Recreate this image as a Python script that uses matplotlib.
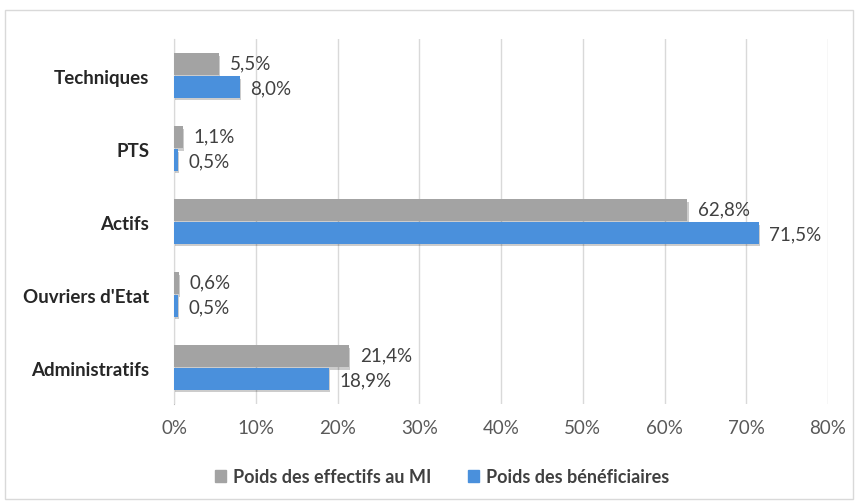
import numpy as np
import matplotlib
matplotlib.use("Agg")
import matplotlib.pyplot as plt
import matplotlib.patheffects as pe
from matplotlib.patches import Rectangle, Patch

plt.rcParams['font.family'] = ['Lato', 'DejaVu Sans']

# données
categories = ["Administratifs", "Ouvriers d'Etat", "Actifs", "PTS", "Techniques"]
effectifs_mi = [21.4, 0.6, 62.8, 1.1, 5.5]
beneficiaires = [18.9, 0.5, 71.5, 0.5, 8.0]
series_labels = ["Poids des effectifs au MI", "Poids des bénéficiaires"]
x_ticks = [0, 10, 20, 30, 40, 50, 60, 70, 80]

grey = "#A3A3A3"
blue = "#4A90DC"
txt = "#404040"

fig = plt.figure(figsize=(8.58, 5.02), dpi=100)
ax = fig.add_axes([0.203, 0.193, 0.762, 0.727])

y = np.arange(len(categories))
h = 0.30
shadow = [pe.SimplePatchShadow(offset=(0.8, -1.8), shadow_rgbFace="#000000", alpha=0.2), pe.Normal()]

b1 = ax.barh(y + h / 2 + 0.005, effectifs_mi, height=h, color=grey, zorder=3)
b2 = ax.barh(y - h / 2 - 0.005, beneficiaires, height=h, color=blue, zorder=3)
for bar in list(b1) + list(b2):
    bar.set_path_effects(shadow)

def fmt(v):
    return f"{v:.1f}%".replace(".", ",")

for yy, v in zip(y + h / 2, effectifs_mi):
    ax.text(v + 1.3, yy + 0.02, fmt(v), va="center", ha="left", fontsize=13.5, color=txt, zorder=4)
for yy, v in zip(y - h / 2, beneficiaires):
    ax.text(v + 1.3, yy - 0.02, fmt(v), va="center", ha="left", fontsize=13.5, color=txt, zorder=4)

ax.set_xlim(0, 80)
ax.set_ylim(-0.5, len(categories) - 0.5)
ax.set_xticks(x_ticks)
ax.set_xticklabels([f"{t}%" for t in x_ticks], fontsize=13.5, color="#595959")
ax.set_yticks(y)
ax.set_yticklabels(categories, fontsize=13.5, fontweight="bold", color="#262626")
ax.tick_params(axis="x", length=0, pad=11)
ax.tick_params(axis="y", length=0, pad=18)
ax.grid(axis="x", color="#D9D9D9", linewidth=1, zorder=0)
for s in ["top", "right", "bottom"]:
    ax.spines[s].set_visible(False)
ax.spines["left"].set_color("#BFBFBF")
ax.spines["left"].set_zorder(1)

handles = [Patch(color=grey), Patch(color=blue)]
leg = fig.legend(handles=handles, labels=series_labels, loc="center left", bbox_to_anchor=(0.232, 0.048),
                 ncol=2, frameon=False, fontsize=13, handlelength=0.6, handleheight=0.6,
                 columnspacing=2.0, handletextpad=0.4)
for t in leg.get_texts():
    t.set_fontweight("bold")
    t.set_color(txt)

# cadre du graphique
fig.patches.append(Rectangle((0.006, 0.004), 0.988, 0.975, transform=fig.transFigure,
                             fill=False, edgecolor="#D9D9D9", linewidth=1))

fig.savefig("out.png", dpi=100)
